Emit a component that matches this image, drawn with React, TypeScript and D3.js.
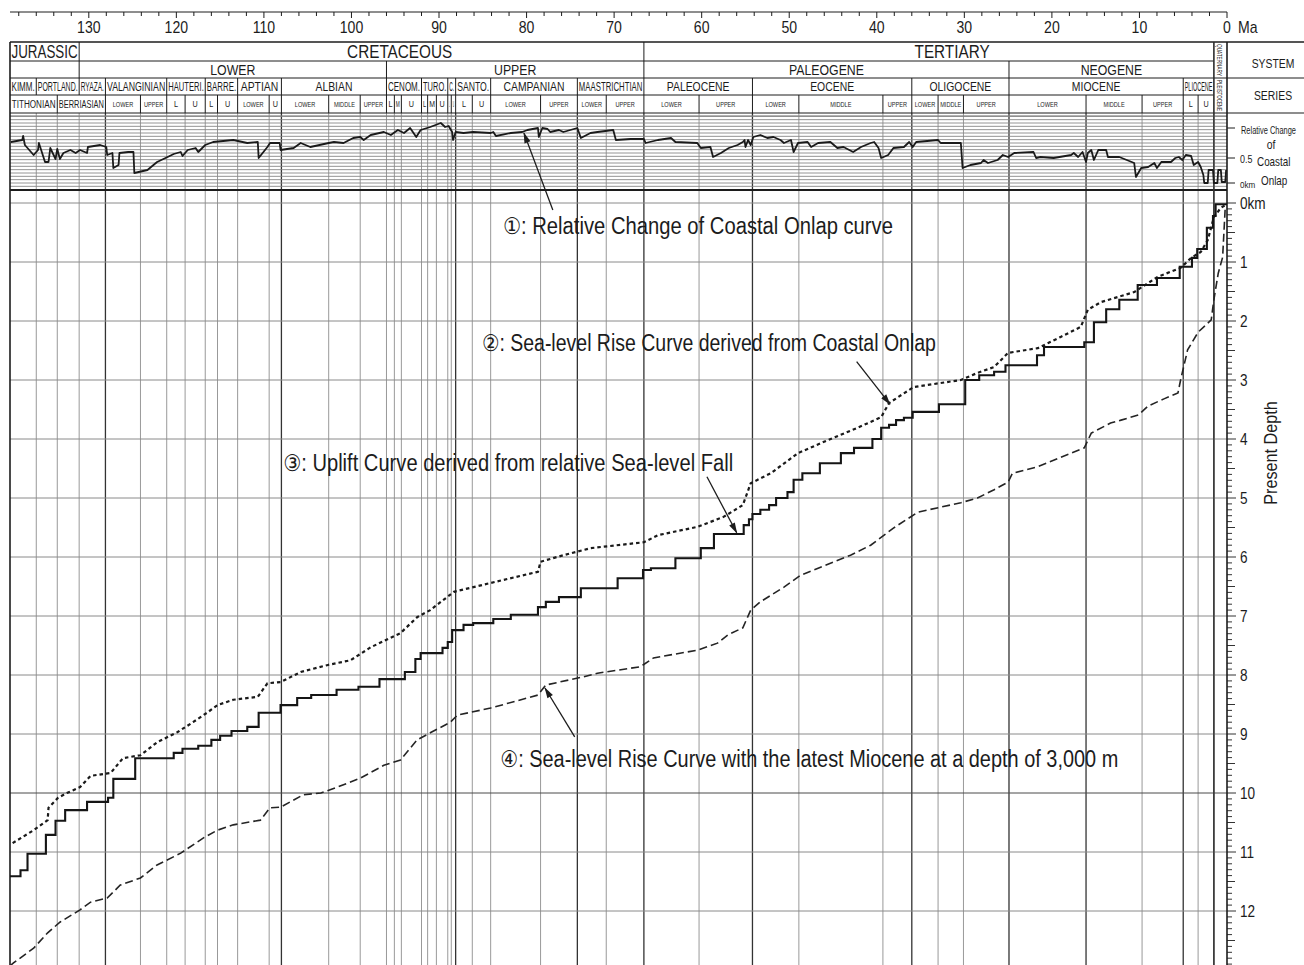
import React, { useLayoutEffect, useRef } from 'react';
import * as d3 from 'd3';

// ---------------- DATA ----------------
const systems = [
  { name: 'JURASSIC', from: 139, to: 131.1 },
  { name: 'CRETACEOUS', from: 131.1, to: 66.6, labelAt: 94.5 },
  { name: 'TERTIARY', from: 66.6, to: 1.5, labelAt: 31.4 },
];
const subsystems = [
  { name: '', from: 139, to: 131.1 },
  { name: 'LOWER', from: 131.1, to: 96.0 },
  { name: 'UPPER', from: 96.0, to: 66.6 },
  { name: 'PALEOGENE', from: 66.6, to: 24.9 },
  { name: 'NEOGENE', from: 24.9, to: 1.5 },
];
const quaternary = { name: 'QUATERNARY', sub: 'PLEISTOCENE', from: 1.5, to: 0 };
const stages = [
  { name: 'KIMM.', from: 139, to: 136.0 },
  { name: 'PORTLAND.', from: 136.0, to: 131.1 },
  { name: 'RYAZA.', from: 131.1, to: 128.1 },
  { name: 'VALANGINIAN', from: 128.1, to: 121.1 },
  { name: 'HAUTERI.', from: 121.1, to: 116.7 },
  { name: 'BARRE.', from: 116.7, to: 113.0 },
  { name: 'APTIAN', from: 113.0, to: 108.0 },
  { name: 'ALBIAN', from: 108.0, to: 96.0 },
  { name: 'CENOM.', from: 96.0, to: 92.0 },
  { name: 'TURO.', from: 92.0, to: 89.0 },
  { name: 'C.', from: 89.0, to: 88.1 },
  { name: 'SANTO.', from: 88.1, to: 84.1 },
  { name: 'CAMPANIAN', from: 84.1, to: 74.2 },
  { name: 'MAASTRICHTIAN', from: 74.2, to: 66.6 },
  { name: 'PALEOCENE', from: 66.6, to: 54.2 },
  { name: 'EOCENE', from: 54.2, to: 36.0 },
  { name: 'OLIGOCENE', from: 36.0, to: 24.9 },
  { name: 'MIOCENE', from: 24.9, to: 5.0 },
  { name: 'PLIOCENE', from: 5.0, to: 1.5 },
];
const substages = [
  ['TITHONIAN', 139, 133.6], ['BERRIASIAN', 133.6, 128.1], ['LOWER', 128.1, 124.1], ['UPPER', 124.1, 121.1],
  ['L', 121.1, 119.0], ['U', 119.0, 116.7], ['L', 116.7, 115.3], ['U', 115.3, 113.0],
  ['LOWER', 113.0, 109.4], ['U', 109.4, 108.0], ['LOWER', 108.0, 102.6], ['MIDDLE', 102.6, 99.0], ['UPPER', 99.0, 96.0],
  ['L', 96.0, 95.1], ['M', 95.1, 94.3], ['U', 94.3, 92.0], ['L', 92.0, 91.3], ['M', 91.3, 90.3], ['U', 90.3, 89.0],
  ['L', 89.0, 88.6], ['U', 88.6, 88.1], ['L', 88.1, 86.2], ['U', 86.2, 84.1], ['LOWER', 84.1, 78.4], ['UPPER', 78.4, 74.2],
  ['LOWER', 74.2, 70.9], ['UPPER', 70.9, 66.6], ['LOWER', 66.6, 60.3], ['UPPER', 60.3, 54.2],
  ['LOWER', 54.2, 48.9], ['MIDDLE', 48.9, 39.3], ['UPPER', 39.3, 36.0], ['LOWER', 36.0, 33.0], ['MIDDLE', 33.0, 30.1],
  ['UPPER', 30.1, 24.9], ['LOWER', 24.9, 16.1], ['MIDDLE', 16.1, 9.7], ['UPPER', 9.7, 5.0], ['L', 5.0, 3.3], ['U', 3.3, 1.5],
];
const darkBoundaries = [128.1, 108.0, 88.1, 74.2, 66.6, 54.2, 36.0, 24.9, 16.1, 5.0, 1.5];

const maTicks = d3.range(0, 139, 2);
const maLabels = [130, 120, 110, 100, 90, 80, 70, 60, 50, 40, 30, 20, 10, 0];
const depthLabels = [0, 1, 2, 3, 4, 5, 6, 7, 8, 9, 10, 11, 12];
const onlapTicks = [0, 0.5, 1.1];

// curve 1: relative change of coastal onlap [Ma, relative value]
const onlapCurve: [number, number][] = [
  [138.9,0.82],[137.6,0.86],[137.5,0.94],[137.3,0.76],[136.3,0.56],[135.8,0.66],[135.7,0.80],[135.0,0.42],[134.6,0.42],[134.4,0.70],
  [133.8,0.48],[133.6,0.68],[133.3,0.48],[132.9,0.60],[132.1,0.66],[131.5,0.60],[131.0,0.66],[130.2,0.60],[130.1,0.72],[128.7,0.76],
  [128.0,0.72],[127.9,0.56],[127.3,0.60],[127.2,0.30],[126.6,0.36],[126.5,0.60],[125.5,0.62],[124.9,0.62],[124.8,0.20],[123.3,0.26],
  [122.2,0.42],[121.0,0.52],[120.3,0.58],[119.5,0.62],[119.3,0.54],[118.7,0.66],[117.8,0.70],[117.5,0.62],[116.7,0.76],[115.8,0.82],
  [113.5,0.86],[111.9,0.80],[110.7,0.82],[110.6,0.50],[109.6,0.72],[109.3,0.80],[108.2,0.80],[108.1,0.66],[106.6,0.70],[105.8,0.80],
  [104.7,0.72],[102.6,0.80],[102.0,0.82],[100.9,0.80],[99.8,0.90],[99.0,0.92],[98.6,0.86],[97.8,0.96],[96.3,1.02],[95.5,0.96],
  [94.7,1.06],[94.0,1.00],[93.3,1.10],[92.6,0.92],[92.1,1.06],[91.0,1.12],[89.8,1.20],[89.3,1.12],[88.9,1.14],[88.5,1.02],
  [88.4,0.86],[88.1,1.02],[87.2,1.00],[86.1,1.02],[84.1,1.00],[83.8,1.02],[83.5,0.94],[81.8,1.00],[80.5,1.02],[79.9,1.06],
  [78.7,1.10],[78.6,0.92],[78.2,1.10],[77.6,1.08],[77.3,1.02],[76.3,1.06],[75.8,1.02],[74.2,1.10],[73.8,0.90],[72.7,1.00],
  [71.9,1.02],[70.1,1.06],[69.8,0.86],[68.1,0.88],[66.6,0.88],[66.4,0.80],[65.0,0.86],[63.5,0.90],[63.0,0.82],[60.5,0.80],
  [60.1,0.70],[59.0,0.72],[58.7,0.52],[57.8,0.60],[56.9,0.70],[55.9,0.76],[55.3,0.82],[55.1,0.86],[55.0,0.72],[54.7,0.86],
  [54.4,0.76],[54.1,0.92],[53.3,0.96],[52.5,0.90],[51.8,0.92],[51.0,0.86],[50.6,0.80],[49.8,0.86],[49.5,0.62],[49.0,0.80],
  [47.9,0.82],[47.5,0.72],[46.7,0.80],[45.3,0.82],[44.5,0.70],[43.8,0.72],[42.7,0.62],[41.8,0.72],[40.7,0.80],[40.3,0.82],
  [39.8,0.70],[39.5,0.50],[38.7,0.56],[38.1,0.70],[36.9,0.72],[36.3,0.82],[35.9,0.72],[35.5,0.82],[33.0,0.86],[32.7,0.80],
  [30.4,0.80],[30.2,0.30],[29.3,0.36],[28.1,0.40],[27.8,0.46],[27.3,0.40],[26.2,0.46],[25.6,0.56],[25.0,0.52],[24.3,0.60],
  [22.1,0.62],[21.8,0.50],[21.3,0.52],[19.8,0.50],[17.8,0.56],[17.5,0.60],[17.0,0.52],[16.5,0.62],[16.1,0.42],[15.9,0.60],
  [15.5,0.66],[15.2,0.46],[14.7,0.66],[13.8,0.66],[13.6,0.52],[12.3,0.52],[10.6,0.40],[10.4,0.12],[9.8,0.30],[9.0,0.32],
  [8.3,0.40],[8.0,0.30],[7.5,0.42],[6.4,0.42],[5.9,0.50],[5.5,0.52],[5.1,0.46],[4.7,0.56],[4.1,0.54],[3.8,0.36],
  [3.3,0.42],[3.0,0.32],[2.7,0.16],[2.6,0.00],[2.2,0.00],[2.1,0.26],[1.6,0.26],[1.5,0.00],[1.1,0.00],[1.0,0.26],
  [0.7,0.26],[0.6,0.02],[0.2,0.02],[0.1,0.26],
];

// curve 2: sea-level rise curve derived from coastal onlap [Ma, km]
const seaLevelOnlap: [number, number][] = [
  [138.7,10.85],[136.3,10.63],[134.7,10.46],[134.6,10.25],[133.5,10.08],[132.5,10.00],[131.0,9.90],[129.8,9.71],[127.5,9.66],
  [126.1,9.41],[124.1,9.36],[122.2,9.14],[119.9,8.97],[118.1,8.80],[116.5,8.64],[115.3,8.51],[113.5,8.42],[110.7,8.37],
  [109.6,8.14],[108.1,8.12],[105.8,7.95],[102.7,7.83],[100.1,7.75],[97.8,7.53],[94.4,7.29],[92.5,7.02],[91.0,6.90],
  [88.3,6.59],[84.1,6.44],[78.7,6.25],[78.4,6.08],[75.8,5.97],[72.7,5.85],[66.6,5.75],[65.0,5.63],[60.5,5.49],
  [57.5,5.32],[55.3,5.12],[54.4,4.75],[52.1,4.58],[49.0,4.24],[45.6,4.02],[42.2,3.81],[39.5,3.63],[38.6,3.39],
  [35.8,3.12],[30.4,3.00],[28.5,2.88],[26.6,2.78],[25.0,2.54],[21.6,2.46],[19.0,2.27],[16.7,2.10],[15.9,1.81],
  [14.4,1.68],[10.6,1.51],[7.9,1.25],[5.3,1.10],[4.1,0.93],[3.0,0.83],[2.2,0.63],[1.5,0.24],[0.7,0.08],[0.1,0.03],
];

// curve 3: uplift curve (step) [start Ma, km]
const upliftSteps: [number, number][] = [
  [139,11.41],[137.8,11.31],[137.0,11.03],[134.9,10.71],[133.8,10.47],[132.7,10.29],[130.2,10.15],[127.8,10.08],[127.2,9.76],
  [124.7,9.41],[120.3,9.32],[119.3,9.25],[117.5,9.20],[116.0,9.10],[115.0,9.03],[113.7,8.95],[111.9,8.88],[110.6,8.64],
  [108.1,8.51],[106.2,8.39],[104.6,8.34],[101.7,8.25],[99.2,8.20],[96.8,8.07],[93.9,7.95],[92.7,7.73],[92.1,7.63],
  [89.6,7.54],[89.0,7.44],[88.5,7.24],[87.2,7.15],[86.1,7.12],[83.8,7.05],[81.8,6.98],[78.7,6.85],[77.8,6.76],
  [76.3,6.68],[73.8,6.53],[69.6,6.36],[66.7,6.22],[65.8,6.19],[63.0,6.02],[60.1,5.85],[58.6,5.61],[55.2,5.46],
  [54.6,5.36],[54.2,5.27],[53.3,5.20],[52.3,5.12],[51.5,5.00],[50.2,4.90],[49.5,4.69],[48.5,4.58],[46.5,4.41],
  [44.1,4.24],[42.6,4.15],[40.5,4.00],[39.5,3.81],[38.6,3.76],[37.8,3.68],[36.9,3.64],[35.9,3.54],[32.9,3.41],
  [29.9,3.00],[28.3,2.92],[26.6,2.86],[25.3,2.75],[21.7,2.58],[20.9,2.44],[16.3,2.36],[15.2,2.02],[13.8,1.80],
  [12.3,1.64],[10.2,1.39],[8.0,1.27],[5.4,1.08],[4.0,0.93],[3.4,0.78],[2.3,0.42],[1.6,0.22],[1.3,0.02],[0,0.02],
];

// curve 4: sea-level rise curve with latest Miocene at 3,000 m [Ma, km]
const seaLevelMiocene: [number, number][] = [
  [139,12.93],[138.6,12.88],[136.3,12.63],[134.7,12.37],[133.3,12.19],[131.0,11.98],[129.8,11.85],[127.9,11.78],[126.4,11.56],
  [124.1,11.44],[122.2,11.22],[119.5,11.02],[116.9,10.76],[115.3,10.63],[113.5,10.54],[110.4,10.46],[109.3,10.25],[108.1,10.24],
  [105.5,10.03],[103.5,10.00],[101.6,9.90],[99.0,9.75],[96.3,9.53],[94.4,9.44],[92.5,9.10],[91.0,8.98],[88.7,8.80],
  [87.9,8.68],[84.1,8.56],[78.7,8.34],[77.8,8.17],[73.5,8.03],[71.9,7.97],[67.0,7.86],[65.5,7.71],[60.5,7.58],
  [58.2,7.46],[57.0,7.32],[55.3,7.20],[54.4,6.90],[53.3,6.76],[50.6,6.51],[48.7,6.31],[46.7,6.19],[43.0,5.97],
  [40.7,5.80],[38.1,5.51],[35.3,5.24],[30.4,5.08],[28.5,5.00],[26.6,4.86],[25.0,4.73],[24.5,4.58],[21.6,4.47],
  [19.0,4.31],[16.3,4.15],[15.5,3.90],[13.3,3.73],[12.1,3.68],[10.1,3.59],[9.0,3.44],[7.2,3.32],[5.6,3.22],
  [5.3,3.00],[4.5,2.49],[3.3,2.19],[1.8,1.98],[1.5,1.64],[1.0,1.19],[0.5,0.92],[0.2,0.07],
];

const annotations = [
  { text: '\u2460: Relative Change of Coastal Onlap curve', ma: 82.7, depth: 0.525, width: 390,
    from: [77.0, 0.12, 'd'], to: [80.3, 1.0, 'o'] },
  { text: '\u2461: Sea-level Rise Curve derived from Coastal Onlap', ma: 85.1, depth: 2.51, width: 454,
    from: [42.3, 2.69, 'd'], to: [38.5, 3.41, 'd'] },
  { text: '\u2462: Uplift Curve derived from relative Sea-level Fall', ma: 107.8, depth: 4.54, width: 450,
    from: [59.4, 4.64, 'd'], to: [56.0, 5.59, 'd'] },
  { text: '\u2463: Sea-level Rise Curve with the latest Miocene at a depth of 3,000 m', ma: 83.0, depth: 9.56, width: 618,
    from: [74.5, 9.05, 'd'], to: [77.9, 8.22, 'd'] },
];

// ---------------- LAYOUT ----------------
const W = 1304;
const H = 965;
const FONT = "'Liberation Sans','DejaVu Sans',Arial,sans-serif";
const INK = '#1c1c1c';
const ROWS = [42, 61, 78, 95, 113];
const AXIS_Y = 12;

const x = d3.scaleLinear().domain([139, 0]).range([10, 1227]);
const yD = d3.scaleLinear().domain([0, 13]).range([203, 970]);
const yO = d3.scaleLinear().domain([0, 1]).range([183, 133]);

function NT({ x: px, y, text, fs, sx = 0.82, maxW, anchor = 'middle', rotate = 0, fill = INK }: any) {
  return (
    <text
      transform={`translate(${px},${y}) rotate(${rotate}) scale(${sx},1)`}
      fontSize={fs}
      textAnchor={anchor}
      data-maxw={maxW ?? ''}
      data-sx={sx}
      fill={fill}
      fontFamily={FONT}
    >
      {text}
    </text>
  );
}

export default function App() {
  const ref = useRef<SVGSVGElement>(null);

  useLayoutEffect(() => {
    const svg = ref.current;
    if (!svg) return;
    svg.querySelectorAll('text[data-maxw]').forEach((el: any) => {
      const m = parseFloat(el.getAttribute('data-maxw'));
      if (!m) return;
      const sx = parseFloat(el.getAttribute('data-sx')) || 1;
      const len = el.getComputedTextLength();
      if (len * sx > m) {
        el.setAttribute('textLength', String(m / sx));
        el.setAttribute('lengthAdjust', 'spacingAndGlyphs');
      }
    });
  }, []);

  const xl = x(139);
  const xr = x(0);
  const xq = x(quaternary.from);

  const allBounds = Array.from(
    new Set([
      ...stages.flatMap((s) => [s.from, s.to]),
      ...substages.flatMap((s: any) => [s[1], s[2]]),
    ])
  ).filter((m) => m < 139 && m > 0);

  const onlapLine = d3.line<[number, number]>().x((d) => x(d[0])).y((d) => yO(d[1]));
  const depthLine = d3.line<[number, number]>().x((d) => x(d[0])).y((d) => yD(d[1]));
  const stepLine = d3
    .line<[number, number]>()
    .x((d) => x(d[0]))
    .y((d) => yD(d[1]))
    .curve(d3.curveStepAfter);

  const onlapGrid = d3.range(-1, 21).map((k) => k / 15);
  const depthTicks = d3.range(0, 130).map((i) => i / 10);

  const renderCells = (cells: any[], y0: number, y1: number, fs: number, sx: number, base: number, kp: string) =>
    cells.map((c: any, i: number) => {
      const x0 = x(c.from);
      const x1 = x(c.to);
      return (
        <g key={kp + i}>
          <line x1={x1} x2={x1} y1={y0} y2={y1} stroke={INK} strokeWidth={1} />
          {c.name && (
            <NT x={x(c.labelAt ?? (c.from + c.to) / 2)} y={base} text={c.name} fs={fs} sx={sx} maxW={x1 - x0 - 3} />
          )}
        </g>
      );
    });

  const pt = (p: any) => [x(p[0]), p[2] === 'o' ? yO(p[1]) : yD(p[1])];

  return (
    <div style={{ position: 'absolute', left: 0, top: 0, background: '#fff' }}>
      <svg ref={ref} width={W} height={H} viewBox={`0 0 ${W} ${H}`} style={{ display: 'block', background: '#fff' }}>
        <defs>
          <marker id="ah" viewBox="0 0 12 10" refX="11" refY="5" markerWidth="9" markerHeight="7" orient="auto-start-reverse">
            <path d="M0,1.5 L12,5 L0,8.5 z" fill={INK} />
          </marker>
        </defs>

        {/* top Ma axis */}
        <line x1={xl} x2={xr} y1={AXIS_Y} y2={AXIS_Y} stroke={INK} strokeWidth={1} />
        {maTicks.map((t) => (
          <line key={'mt' + t} x1={x(t)} x2={x(t)} y1={AXIS_Y} y2={AXIS_Y + (t % 10 === 0 ? 6 : 4)} stroke={INK} strokeWidth={1} />
        ))}
        {maLabels.map((t) => (
          <NT key={'ml' + t} x={x(t)} y={33} text={String(t)} fs={16} sx={0.88} />
        ))}
        <NT x={1238} y={33} text="Ma" fs={16} sx={0.88} anchor="start" />

        {/* main grid: vertical boundaries */}
        {allBounds.map((m) => {
          const dark = darkBoundaries.includes(m);
          return (
            <line key={'vb' + m} x1={x(m)} x2={x(m)} y1={ROWS[4]} y2={H} stroke={dark ? '#333' : '#999'} strokeWidth={dark ? 1.3 : 1} />
          );
        })}

        {/* onlap panel horizontal lines */}
        {onlapGrid.map((v, i) => (
          <line key={'og' + i} x1={xl} x2={xr} y1={yO(v)} y2={yO(v)} stroke="#888" strokeWidth={0.9} />
        ))}
        <line x1={xl} x2={xr} y1={190} y2={190} stroke={INK} strokeWidth={2} />

        {/* depth gridlines */}
        {depthLabels.map((d) => (
          <line key={'dg' + d} x1={xl} x2={xr} y1={yD(d)} y2={yD(d)} stroke={d === 10 ? '#4a4a4a' : '#8a8a8a'} strokeWidth={1} />
        ))}

        {/* header table */}
        <line x1={xl} x2={W} y1={ROWS[0]} y2={ROWS[0]} stroke={INK} strokeWidth={1.4} />
        <line x1={xl} x2={xq} y1={ROWS[1]} y2={ROWS[1]} stroke={INK} strokeWidth={1} />
        <line x1={xl} x2={W} y1={ROWS[2]} y2={ROWS[2]} stroke={INK} strokeWidth={1} />
        <line x1={xl} x2={xq} y1={ROWS[3]} y2={ROWS[3]} stroke={INK} strokeWidth={1} />
        <line x1={xl} x2={W} y1={ROWS[4]} y2={ROWS[4]} stroke={INK} strokeWidth={1.2} />
        <line x1={xl} x2={xr} y1={ROWS[4] + 3} y2={ROWS[4] + 3} stroke="#7a7a7a" strokeWidth={1} />

        {renderCells(systems, ROWS[0], ROWS[1], 18, 0.85, 58, 'sy')}
        {renderCells(subsystems, ROWS[1], ROWS[2], 14.5, 0.85, 75, 'ss')}
        {renderCells(stages, ROWS[2], ROWS[3], 13, 0.8, 91, 'st')}
        {substages.map((s: any, i: number) => {
          const nm = s[0];
          const x0 = x(s[1]);
          const x1 = x(s[2]);
          const big = nm.length > 6;
          const single = nm.length === 1;
          return (
            <g key={'sbb' + i}>
              <line x1={x1} x2={x1} y1={ROWS[3]} y2={ROWS[4]} stroke={INK} strokeWidth={1} />
              <NT
                x={(x0 + x1) / 2}
                y={big ? 108 : 107}
                text={nm}
                fs={big ? 11 : single ? 9 : 8}
                sx={big ? 0.74 : single ? 0.8 : 0.7}
                maxW={x1 - x0 - 3}
              />
            </g>
          );
        })}

        {/* quaternary column */}
        <NT x={(xq + xr) / 2 - 3} y={(ROWS[0] + ROWS[2]) / 2} text={quaternary.name} fs={7.5} sx={0.8} rotate={90} maxW={32} />
        <NT x={(xq + xr) / 2 - 3} y={(ROWS[2] + ROWS[4]) / 2} text={quaternary.sub} fs={7} sx={0.8} rotate={90} maxW={31} />
        <line x1={xq} x2={xq} y1={ROWS[0]} y2={H} stroke="#333" strokeWidth={1.3} />

        {/* right label column */}
        <NT x={1273} y={68} text="SYSTEM" fs={13} sx={0.8} />
        <NT x={1273} y={100} text="SERIES" fs={13} sx={0.8} />

        {/* frame */}
        <line x1={xl} x2={xl} y1={ROWS[0]} y2={H} stroke={INK} strokeWidth={1.6} />
        <line x1={xr} x2={xr} y1={ROWS[0]} y2={H} stroke={INK} strokeWidth={1.6} />

        {/* onlap axis */}
        {onlapTicks.map((v) => (
          <line key={'ot' + v} x1={xr} x2={xr + 8} y1={yO(v)} y2={yO(v)} stroke={INK} strokeWidth={1} />
        ))}
        <text x={1296} y={134} fontSize={11.5} fontFamily={FONT} fill={INK} textAnchor="end" textLength={55} lengthAdjust="spacingAndGlyphs">
          Relative Change
        </text>
        <NT x={1271} y={149} text="of" fs={13} sx={0.8} />
        <NT x={1240} y={163} text="0.5" fs={10.5} sx={0.85} anchor="start" />
        <NT x={1257} y={166} text="Coastal" fs={13} sx={0.76} anchor="start" />
        <NT x={1240} y={188} text="0km" fs={9.5} sx={0.85} anchor="start" />
        <NT x={1261} y={185} text="Onlap" fs={13} sx={0.76} anchor="start" />

        {/* depth axis */}
        {depthTicks.map((d, i) => {
          const len = i % 10 === 0 ? 9 : i % 5 === 0 ? 8 : 5;
          return <line key={'dt' + i} x1={xr} x2={xr + len} y1={yD(d)} y2={yD(d)} stroke={INK} strokeWidth={0.9} />;
        })}
        {depthLabels.map((d) => (
          <NT key={'dl' + d} x={1240} y={yD(d) + 6} text={d === 0 ? '0km' : String(d)} fs={16} sx={0.85} anchor="start" />
        ))}
        <NT x={1277} y={453} text="Present Depth" fs={18} sx={0.9} rotate={-90} />

        {/* curves */}
        <path d={onlapLine(onlapCurve) || ''} fill="none" stroke="#1a1a1a" strokeWidth={1.8} strokeLinejoin="round" />
        <path d={depthLine(seaLevelOnlap) || ''} fill="none" stroke="#1a1a1a" strokeWidth={2.2} strokeDasharray="3.5,3" />
        <path d={stepLine(upliftSteps) || ''} fill="none" stroke="#151515" strokeWidth={2.1} />
        <path d={depthLine(seaLevelMiocene) || ''} fill="none" stroke="#242424" strokeWidth={1.6} strokeDasharray="8,4" />

        {/* annotations */}
        {annotations.map((a, i) => {
          const [fx, fy] = pt(a.from);
          const [tx, ty] = pt(a.to);
          return (
            <g key={'an' + i}>
              <line x1={fx} y1={fy} x2={tx} y2={ty} stroke={INK} strokeWidth={1.3} markerEnd="url(#ah)" />
              <text
                x={x(a.ma)}
                y={yD(a.depth)}
                fontSize={23}
                fontFamily={FONT}
                fill={INK}
                textLength={a.width}
                lengthAdjust="spacingAndGlyphs"
              >
                {a.text}
              </text>
            </g>
          );
        })}
      </svg>
    </div>
  );
}
